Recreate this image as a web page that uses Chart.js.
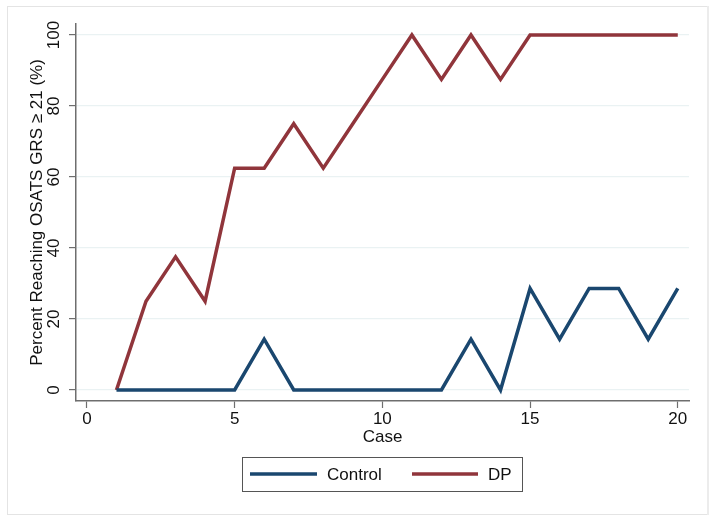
<!DOCTYPE html>
<html>
<head>
<meta charset="utf-8">
<script src="https://cdn.jsdelivr.net/npm/chart.js@4/dist/chart.umd.min.js"></script>
<style>
  html, body { margin: 0; padding: 0; background: #fff; }
  canvas { display: block; }
</style>
</head>
<body>
<canvas id="chartOsats" width="714" height="522"></canvas>
<script>
// Define the data
var cases = [1, 2, 3, 4, 5, 6, 7, 8, 9, 10, 11, 12, 13, 14, 15, 16, 17, 18, 19, 20];
var controlPct = [0, 0, 0, 0, 0, 14.3, 0, 0, 0, 0, 0, 0, 14.3, 0, 28.6, 14.3, 28.6, 28.6, 14.3, 28.6];
var dpPct = [0, 25, 37.5, 25, 62.5, 62.5, 75, 62.5, 75, 87.5, 100, 87.5, 100, 87.5, 100, 100, 100, 100, 100, 100];
var xTicks = [0, 5, 10, 15, 20];
var yTicks = [0, 20, 40, 60, 80, 100];
// End Defining data

function toPoints(vals) {
  return cases.map(function (c, i) { return { x: c, y: vals[i] }; });
}

var FONT = '"Liberation Sans", Arial, Helvetica, sans-serif';

// frame round the whole graph + boxed legend (Stata look)
var stataDecor = {
  id: 'stataDecor',
  beforeDraw: function (chart) {
    var c = chart.ctx;
    c.save();
    c.strokeStyle = '#e4e4e4';
    c.lineWidth = 1;
    c.strokeRect(7.5, 6.5, 700, 508);
    c.strokeStyle = '#ececec';
    c.lineWidth = 2;
    c.beginPath();
    c.moveTo(708, 6);
    c.lineTo(708, 515);
    c.stroke();
    c.restore();
  },
  afterDraw: function (chart) {
    var c = chart.ctx;
    var ds = chart.data.datasets;
    c.save();
    c.strokeStyle = '#555';
    c.lineWidth = 1;
    c.strokeRect(242.5, 457.5, 280, 34);
    var items = [
      { x0: 250, x1: 317, tx: 327 },
      { x0: 412, x1: 478, tx: 488 },
    ];
    c.font = '17px ' + FONT;
    c.textBaseline = 'middle';
    c.textAlign = 'left';
    items.forEach(function (it, i) {
      c.strokeStyle = ds[i].borderColor;
      c.lineWidth = 3.5;
      c.beginPath();
      c.moveTo(it.x0, 474);
      c.lineTo(it.x1, 474);
      c.stroke();
      c.fillStyle = '#111';
      c.fillText(ds[i].label, it.tx, 475);
    });
    c.restore();
  },
};

var ctx = document.getElementById('chartOsats').getContext('2d');
var myChart = new Chart(ctx, {
  type: 'line',
  data: {
    datasets: [
      {
        label: 'Control',
        data: toPoints(controlPct),
        borderColor: '#1a476f',
        borderWidth: 3.5,
        pointRadius: 0,
        tension: 0,
        fill: false,
      },
      {
        label: 'DP',
        data: toPoints(dpPct),
        borderColor: '#90353b',
        borderWidth: 3.5,
        pointRadius: 0,
        tension: 0,
        fill: false,
      },
    ],
  },
  options: {
    responsive: false,
    animation: false,
    layout: { padding: { top: 24, right: 25, bottom: 74, left: 0 } },
    plugins: {
      legend: { display: false },
      tooltip: { enabled: false },
    },
    scales: {
      x: {
        type: 'linear',
        min: -0.37,
        max: 20.38,
        afterFit: function (s) { s.height = 47; },
        afterBuildTicks: function (s) { s.ticks = xTicks.map(function (v) { return { value: v }; }); },
        grid: { drawOnChartArea: false, drawTicks: true, tickLength: 7, tickColor: '#6e6e6e', tickWidth: 1.2 },
        border: { color: '#6e6e6e', width: 1.5 },
        ticks: { color: '#111', padding: 1, maxRotation: 0, font: { family: FONT, size: 17 } },
        title: { display: true, text: 'Case', color: '#111', padding: 0, font: { family: FONT, size: 17 } },
      },
      y: {
        min: -3.1,
        max: 103.1,
        afterFit: function (s) { s.width = 76; },
        afterBuildTicks: function (s) { s.ticks = yTicks.map(function (v) { return { value: v }; }); },
        grid: { color: '#eaf2f3', lineWidth: 1.2, drawTicks: true, tickLength: 7, tickColor: '#6e6e6e', tickWidth: 1.2 },
        border: { color: '#6e6e6e', width: 1.5 },
        ticks: { color: '#111', padding: 1, minRotation: 90, maxRotation: 90, crossAlign: 'center', font: { family: FONT, size: 17 } },
        title: { display: true, text: 'Percent Reaching OSATS GRS ≥ 21 (%)', color: '#111', padding: { top: 27, bottom: 0 }, font: { family: FONT, size: 17 } },
      },
    },
  },
  plugins: [stataDecor],
});
</script>
</body>
</html>
